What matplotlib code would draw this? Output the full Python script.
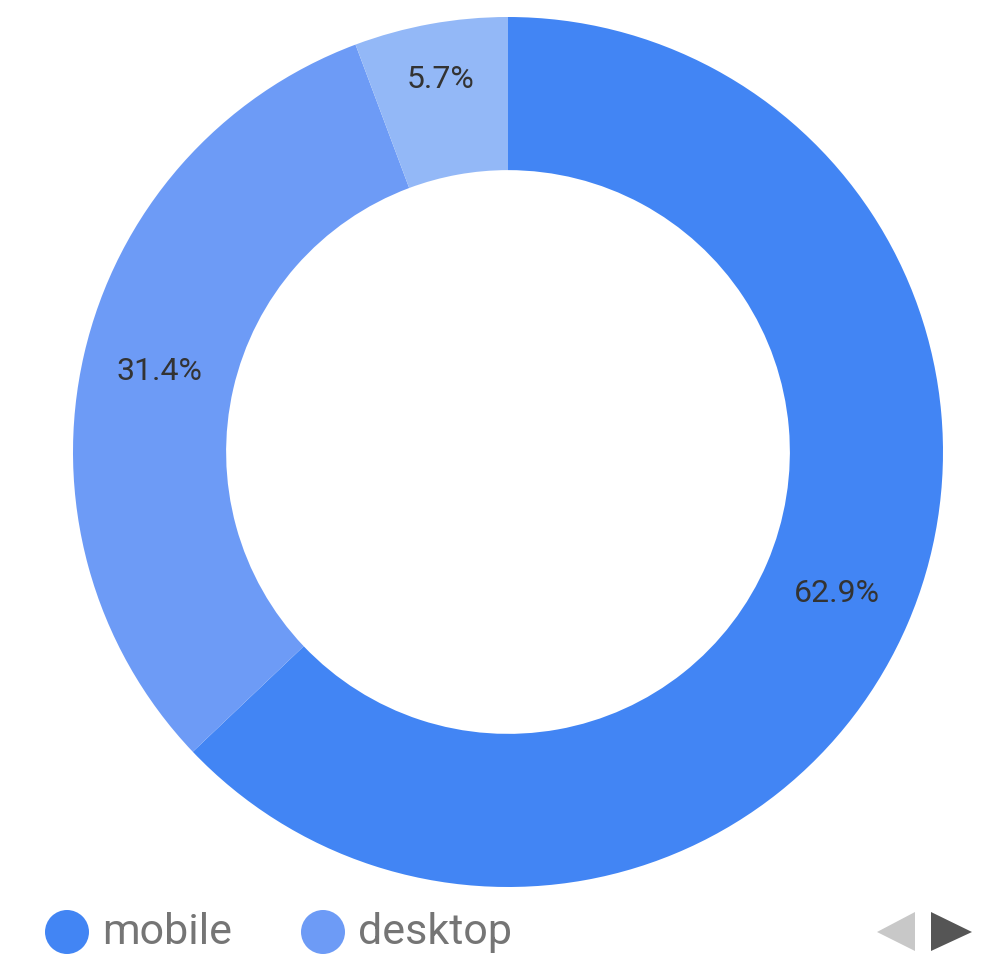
import numpy as np
import matplotlib
matplotlib.use("Agg")
import matplotlib.pyplot as plt
import matplotlib.patches as patches

plt.rcParams['font.family'] = ['Roboto', 'DejaVu Sans']

# data
labels = ['mobile', 'desktop', 'tablet']
shares = [62.9, 31.4, 5.7]
colors = ['#4285f4', '#6d9bf6', '#93b8f7']
legend_items = ['mobile', 'desktop']

W, H = 995, 955
fig = plt.figure(figsize=(W / 100, H / 100), dpi=100)
ax = fig.add_axes([0, 0, 1, 1])
ax.set_axis_off()

cx, cy, R = 508, H - 452, 435
wedges, texts, autotexts = ax.pie(
    shares, colors=colors, startangle=90, counterclock=False,
    center=(cx, cy), radius=R, autopct='%.1f%%', pctdistance=0.823,
    wedgeprops=dict(width=R * 0.352, linewidth=0),
    textprops=dict(fontsize=23, color='#333333'))
ax.set_xlim(0, W)
ax.set_ylim(0, H)
ax.set_aspect('auto')

# small slice label sits a bit further out
w = wedges[2]
mid = np.deg2rad((w.theta1 + w.theta2) / 2)
autotexts[2].set_position((cx + 0.87 * R * np.cos(mid), cy + 0.87 * R * np.sin(mid)))

# legend
lx = [67, 323]
for i, name in enumerate(legend_items):
    ax.add_patch(patches.Circle((lx[i], H - 932), 22, color=colors[i], lw=0))
    ax.text(lx[i] + 35, H - 932, name, fontsize=31, color='#757575',
            va='center', ha='left')

# pager arrows
ax.add_patch(patches.Polygon([(915, H - 912), (915, H - 951), (877, H - 932)],
                             closed=True, color='#c8c8c8', lw=0))
ax.add_patch(patches.Polygon([(931, H - 912), (931, H - 951), (972, H - 932)],
                             closed=True, color='#555555', lw=0))

fig.savefig('out.png', dpi=100)
